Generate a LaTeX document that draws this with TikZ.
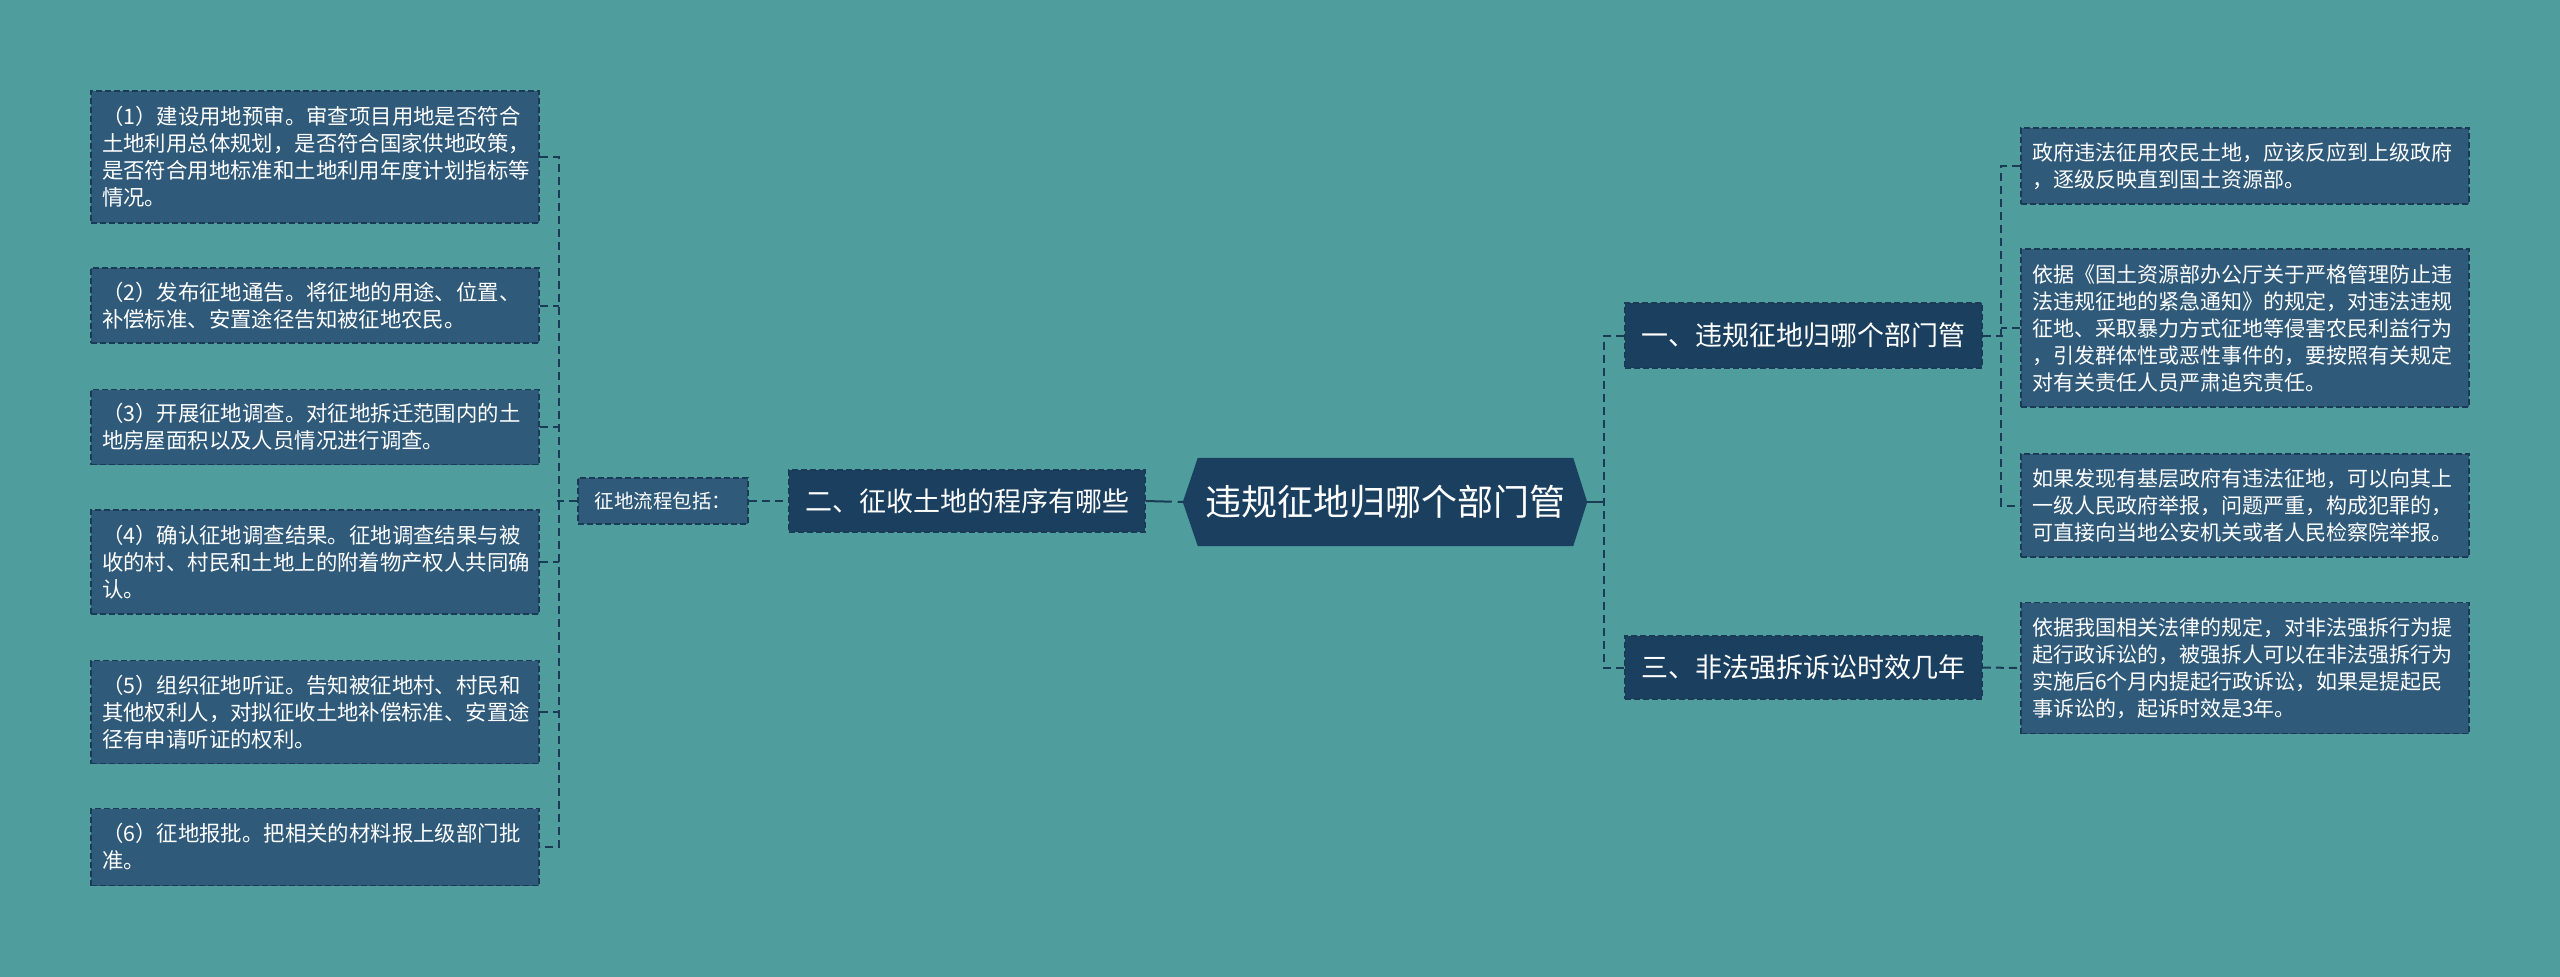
\documentclass[tikz,border=0pt]{standalone}
\usepackage{fontspec}
\newfontfamily\cjk{Noto Sans CJK SC}
\definecolor{bgcol}{HTML}{4F9D9C}
\definecolor{leafcol}{HTML}{2F5A7A}
\definecolor{darkcol}{HTML}{1A3F5F}
\definecolor{linecol}{HTML}{1B3A56}
\tikzset{
  leaf/.style={draw=linecol, dash pattern=on 6pt off 3pt, line width=1.5pt, fill=leafcol, text=white,
    font=\cjk\fontsize{21pt}{27pt}\selectfont, align=left, text width=426pt, inner xsep=11pt, inner ysep=0pt},
  leftleaf/.style={leaf, font=\cjk\fontsize{21.4pt}{27pt}\selectfont},
  topbox/.style={draw=linecol, dash pattern=on 6pt off 3pt, line width=1.5pt, fill=darkcol, text=white,
    font=\cjk\fontsize{27pt}{32pt}\selectfont, inner sep=0pt},
  midbox/.style={draw=linecol, dash pattern=on 6pt off 3pt, line width=1.5pt, fill=leafcol, text=white,
    font=\cjk\fontsize{19.5pt}{24pt}\selectfont, inner sep=0pt},
  conn/.style={draw=linecol, line width=2pt, dash pattern=on 8pt off 5pt},
  longconn/.style={draw=linecol, line width=2pt, dash pattern=on 26pt off 6pt},
  solidconn/.style={draw=linecol, line width=2pt}
}
\begin{document}
\begin{tikzpicture}[x=1pt,y=-1pt]
\fill[bgcol] (0,0) rectangle (2560,977);
\useasboundingbox (0,0) rectangle (2560,977);
% left leaves
\node[leftleaf, minimum height=132pt] (l1) at (315,157) {（1）建设用地预审。审查项目用地是否符合\\土地利用总体规划，是否符合国家供地政策，\\是否符合用地标准和土地利用年度计划指标等\\情况。};
\node[leftleaf, minimum height=75pt] (l2) at (315,305.5) {（2）发布征地通告。将征地的用途、位置、\\补偿标准、安置途径告知被征地农民。};
\node[leftleaf, minimum height=75pt] (l3) at (315,427) {（3）开展征地调查。对征地拆迁范围内的土\\地房屋面积以及人员情况进行调查。};
\node[leftleaf, minimum height=104pt] (l4) at (315,562) {（4）确认征地调查结果。征地调查结果与被\\收的村、村民和土地上的附着物产权人共同确\\认。};
\node[leftleaf, minimum height=103pt] (l5) at (315,712) {（5）组织征地听证。告知被征地村、村民和\\其他权利人，对拟征收土地补偿标准、安置途\\径有申请听证的权利。};
\node[leftleaf, minimum height=77pt] (l6) at (315,847) {（6）征地报批。把相关的材料报上级部门批\\准。};
% middle
\node[midbox, minimum width=170pt, minimum height=46pt] (mid) at (663,501) {征地流程包括：};
\node[topbox, minimum width=356pt, minimum height=62pt] (b2) at (967,501) {二、征收土地的程序有哪些};
% center
\node[inner sep=0pt, minimum width=375pt, minimum height=88pt] (c) at (1385.5,502) {};
\coordinate (cl) at ([xshift=-15pt]c.west);
\coordinate (cr) at ([xshift=14pt]c.east);
\fill[darkcol] (c.north west) -- (c.north east) -- (cr) -- (c.south east) -- (c.south west) -- (cl) -- cycle;
\node[text=white, font=\cjk\fontsize{36pt}{40pt}\selectfont, inner sep=0pt] at (c.center) {违规征地归哪个部门管};
% right top-level
\node[topbox, minimum width=357pt, minimum height=65pt] (b1) at (1803.5,335.5) {一、违规征地归哪个部门管};
\node[topbox, minimum width=357pt, minimum height=63pt] (b3) at (1803.5,667.5) {三、非法强拆诉讼时效几年};
% right leaves
\node[leaf, minimum height=76pt] (ra) at (2245,166) {政府违法征用农民土地，应该反应到上级政府\\，逐级反映直到国土资源部。};
\node[leaf, minimum height=158pt] (rb) at (2245,328) {依据《国土资源部办公厅关于严格管理防止违\\法违规征地的紧急通知》的规定，对违法违规\\征地、采取暴力方式征地等侵害农民利益行为\\，引发群体性或恶性事件的，要按照有关规定\\对有关责任人员严肃追究责任。};
\node[leaf, minimum height=103pt] (rc) at (2245,505.5) {如果发现有基层政府有违法征地，可以向其上\\一级人民政府举报，问题严重，构成犯罪的，\\可直接向当地公安机关或者人民检察院举报。};
\node[leaf, minimum height=131pt] (rd) at (2245,668) {依据我国相关法律的规定，对非法强拆行为提\\起行政诉讼的，被强拆人可以在非法强拆行为\\实施后6个月内提起行政诉讼，如果是提起民\\事诉讼的，起诉时效是3年。};
% connectors left
\draw[conn] (l1.east) -- ++(19,0) |- (l6.east);
\foreach \n in {l2,l3,l4,l5} \draw[conn] (\n.east) -- ++(19,0);
\draw[conn] (mid.west) -- ++(-20,0);
\draw[conn] (mid.east) -- (b2.west);
\draw[longconn] (b2.east) -- (cl);
% connectors right
\draw[solidconn] (cr) -- ++(18,0);
\draw[conn] (b1.west) -- ++(-20,0) |- (b3.west);
\draw[conn] (b1.east) -- ++(20,0);
\draw[conn] (ra.west) -- ++(-19,0) |- (rc.west);
\draw[conn] (rb.west) -- ++(-19,0);
\draw[conn] (b3.east) -- (rd.west);
\end{tikzpicture}
\end{document}
